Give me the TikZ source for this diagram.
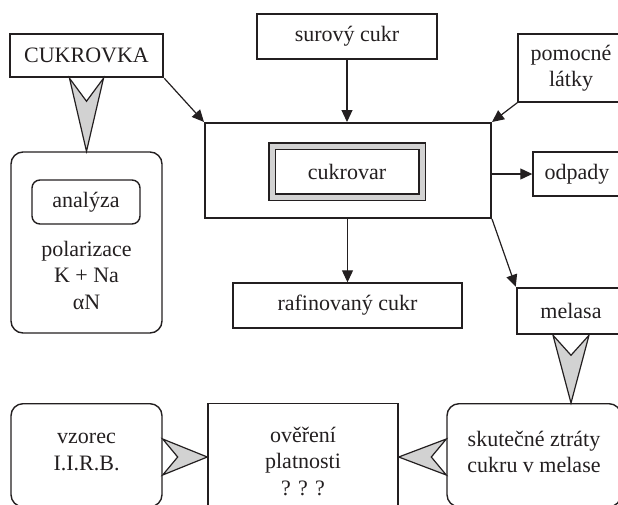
\documentclass[tikz,border=0pt]{standalone}
\usepackage{fontspec}
\setmainfont{Liberation Serif}
\usepackage{tikz}
\usetikzlibrary{arrows.meta,calc,positioning}
\definecolor{ink}{RGB}{35,31,32}

\begin{document}
\begin{tikzpicture}[x=1pt,y=-1pt,font=\fontsize{22}{26.5}\selectfont]
        \tikzset{box/.style={draw=ink, line width=1.4pt, inner sep=0pt, align=center, text=ink},
                 thickbox/.style={box, line width=2.5pt},
                 roundbox/.style={box, rounded corners=12pt},
                 flow/.style={draw=ink, line width=1.2pt, -{Triangle[length=12pt, width=11pt]}},
                 fatarrow/.style={draw=ink, line width=1.2pt, fill=gray!35, line join=miter}}
        \useasboundingbox (0,0) rectangle (618,504);
        \clip (0,0) rectangle (618,504);

        % top row
        \node[thickbox, minimum width=153, minimum height=43] (cukrovka) at (86.5,55.5) {CUKROVKA};
        \node[box, minimum width=180, minimum height=45] (surovy) at (347,36.5) {surový cukr};
        \node[box, minimum width=106, minimum height=68] (pomocne) at (571,68) {pomocné\\látky};

        % sugar factory
        \node[box, line width=2pt, minimum width=286, minimum height=95] (cukrovar) at (348,170.5) {};
        \node[box, double=gray!35, double distance=5pt, line width=1.2pt, fill=white,
              minimum width=150, minimum height=51] (jadro) at (347,171.5) {cukrovar};
        \node[box, minimum width=88, minimum height=44] (odpady) at (577,174) {odpady};
        \node[box, minimum width=229, minimum height=45] (rafinovany) at (347.5,305.5) {rafinovaný cukr};
        \node[thickbox, minimum width=108, minimum height=46] (melasa) at (571,311) {melasa};

        % analysis
        \node[roundbox, minimum width=151, minimum height=181] (rozbor) at (86.5,242.5) {};
        \node[roundbox, rounded corners=8pt, minimum width=108, minimum height=44] (analyza) at (86,202) {analýza};
        \node[align=center, text=ink, inner sep=0pt] (metody) at (86.5,275) {polarizace\\K + Na\\αN};

        % bottom row
        \node[roundbox, minimum width=151, minimum height=103, anchor=north] (vzorec) at (86.5,403) {};
        \node[box, minimum width=190, minimum height=130, anchor=north] (overeni) at (303,403) {};
        \node[roundbox, minimum width=174, minimum height=103, anchor=north] (ztraty) at (534,403) {};
        \node[align=center, text=ink] (vzorectext) at (86.5,452) {vzorec\\I.I.R.B.};
        \node[align=center, text=ink] (overenitext) at (303,461) {ověření\\platnosti\\? ? ?};
        \node[align=center, text=ink] (ztratytext) at (534,452) {skutečné ztráty\\cukru v melase};
        \coordinate (row) at (0,457);

        \draw[flow] (cukrovka.south east) -- (cukrovar.north west);
        \draw[flow] (surovy.south) -- (surovy.south |- cukrovar.north);
        \draw[flow] (pomocne.south west) -- (cukrovar.north east);
        \draw[flow] (cukrovar.east |- odpady) -- (odpady.west);
        \draw[flow] (cukrovar.south -| rafinovany) -- (rafinovany.north);
        \draw[flow] (cukrovar.south east) -- (melasa.north west);

        % grey arrows
        \draw[fatarrow] ($(cukrovka.south)+(-17,0)$) -- ($(cukrovka.south)+(0,23)$)
              -- ($(cukrovka.south)+(17,0)$) -- (rozbor.north) -- cycle;
        \draw[fatarrow] ($(melasa.south)+(-18,0)$) -- ($(melasa.south)+(0,20)$)
              -- ($(melasa.south)+(18,0)$) -- (melasa.south |- ztraty.north) -- cycle;
        \draw[fatarrow] ($(ztraty.west |- row)+(0,-18)$) -- ($(ztraty.west |- row)+(-15,0)$)
              -- ($(ztraty.west |- row)+(0,18)$) -- (overeni.east |- row) -- cycle;
        \draw[fatarrow] ($(vzorec.east |- row)+(0,-18)$) -- ($(vzorec.east |- row)+(15,0)$)
              -- ($(vzorec.east |- row)+(0,18)$) -- (overeni.west |- row) -- cycle;
\end{tikzpicture}
\end{document}
